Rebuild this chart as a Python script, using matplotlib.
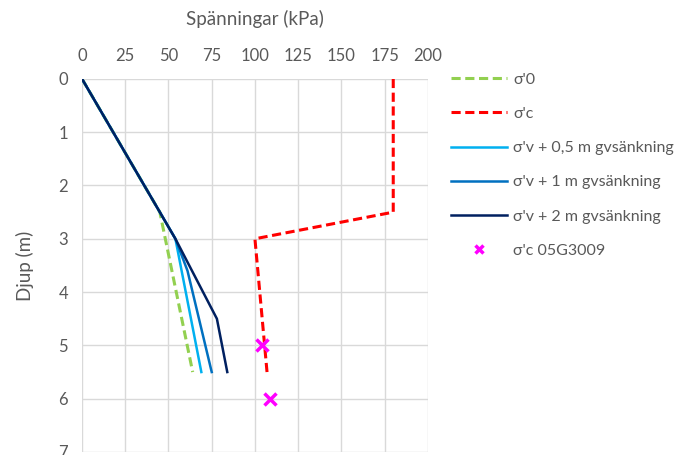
import matplotlib
matplotlib.use("Agg")
import matplotlib.pyplot as plt

plt.rcParams["font.family"] = ["Lato", "DejaVu Sans"]

# ---------------------------------------------------------------------------
# Data (kPa vs depth in m)
# ---------------------------------------------------------------------------
s0_x = [0, 45, 64]
s0_y = [0, 2.5, 5.5]

sc_x = [180, 180, 100, 107]
sc_y = [0, 2.5, 3.0, 5.5]

sv05_x = [0, 45, 54, 69]
sv05_y = [0, 2.5, 3.0, 5.5]

sv1_x = [0, 45, 54, 61, 75]
sv1_y = [0, 2.5, 3.0, 3.6, 5.5]

sv2_x = [0, 45, 54, 78, 84]
sv2_y = [0, 2.5, 3.0, 4.5, 5.5]

lab_x = [104, 109]
lab_y = [5.0, 6.0]

labels = ["σ'0", "σ'c", "σ'v + 0,5 m gvsänkning", "σ'v + 1 m gvsänkning",
          "σ'v + 2 m gvsänkning", "σ'c 05G3009"]

# ---------------------------------------------------------------------------
# Plot
# ---------------------------------------------------------------------------
fig = plt.figure(figsize=(6.78, 4.55), dpi=100)
ax = fig.add_axes([0.121, 0.0066, 0.510, 0.820])

ax.plot(s0_x, s0_y, color="#92D050", lw=2.2, ls=(0, (3, 1.5)), label=labels[0])
ax.plot(sc_x, sc_y, color="#FF0000", lw=2.2, ls=(0, (3, 1.5)), label=labels[1])
ax.plot(sv05_x, sv05_y, color="#00B0F0", lw=1.8, label=labels[2])
ax.plot(sv1_x, sv1_y, color="#0070C0", lw=1.8, label=labels[3])
ax.plot(sv2_x, sv2_y, color="#002060", lw=1.8, label=labels[4])
ax.plot(lab_x, lab_y, ls="none", marker="x", ms=9, mew=2.5, color="#FF00FF",
        label=labels[5])

ax.set_xlim(0, 200)
ax.set_ylim(7, 0)
ax.set_xticks(range(0, 201, 25))
ax.set_yticks(range(0, 8))
ax.xaxis.tick_top()
ax.xaxis.set_label_position("top")
ax.tick_params(length=0, labelsize=12, labelcolor="#595959")
ax.tick_params(axis="x", pad=11)
ax.tick_params(axis="y", pad=10)
ax.grid(True, color="#D9D9D9", lw=1)
ax.set_axisbelow(True)
for s in ax.spines.values():
    s.set_visible(False)

ax.set_xlabel("Spänningar (kPa)", fontsize=13.5, color="#595959", labelpad=16)
ax.set_ylabel("Djup (m)", fontsize=13.5, color="#595959", labelpad=18)

leg = ax.legend(loc="upper left", bbox_to_anchor=(1.025, 1.055), frameon=False,
                fontsize=11.5, labelcolor="#595959", handlelength=3.5,
                labelspacing=1.25, handletextpad=0.4, markerscale=0.7)

plt.savefig("out.png", dpi=100)
plt.close()
